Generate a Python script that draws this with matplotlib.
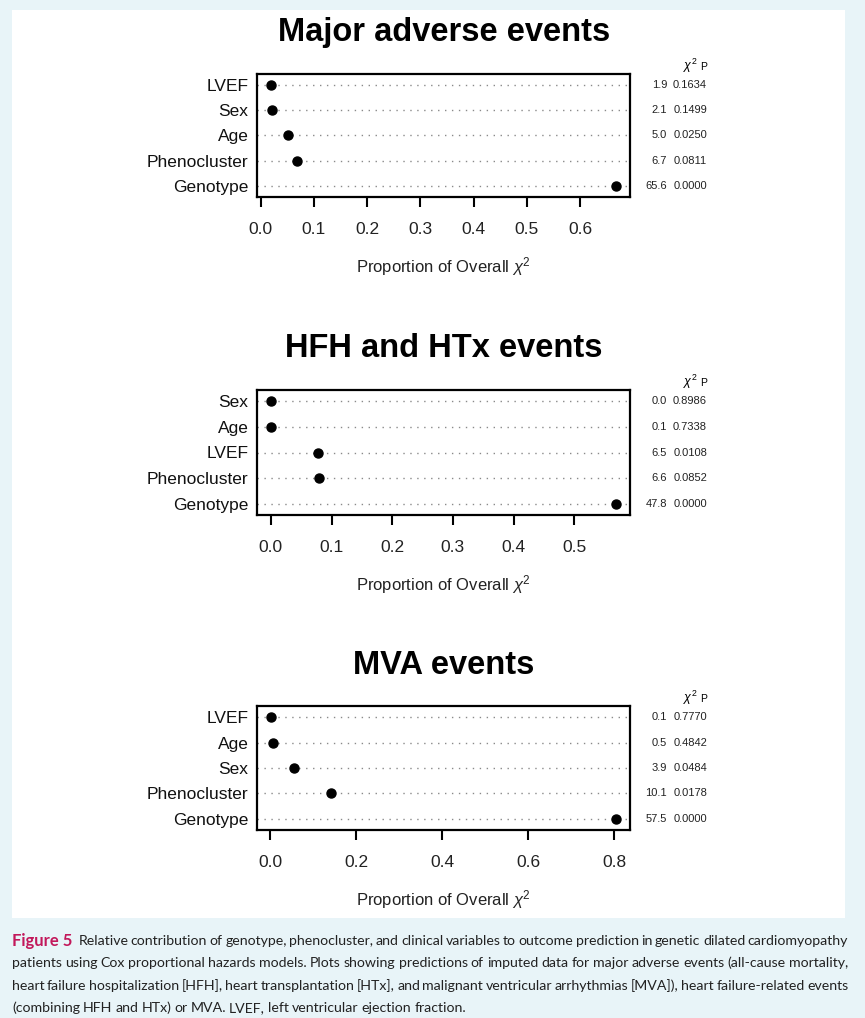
import matplotlib
matplotlib.use('Agg')
import matplotlib.pyplot as plt
from matplotlib.patches import Rectangle

plt.rcParams['font.family'] = ['Liberation Sans', 'DejaVu Sans']
plt.rcParams['mathtext.fontset'] = 'custom'
plt.rcParams['mathtext.it'] = 'Liberation Sans:italic'
plt.rcParams['mathtext.rm'] = 'Liberation Sans'

# data
titles = ['Major adverse events', 'HFH and HTx events', 'MVA events']

labels1 = ['LVEF', 'Sex', 'Age', 'Phenocluster', 'Genotype']
prop1 = [0.019, 0.021, 0.051, 0.068, 0.668]
chi1 = ['1.9', '2.1', '5.0', '6.7', '65.6']
p1 = ['0.1634', '0.1499', '0.0250', '0.0811', '0.0000']
ticks1 = [0.0, 0.1, 0.2, 0.3, 0.4, 0.5, 0.6]

labels2 = ['Sex', 'Age', 'LVEF', 'Phenocluster', 'Genotype']
prop2 = [0.000, 0.001, 0.077, 0.079, 0.569]
chi2 = ['0.0', '0.1', '6.5', '6.6', '47.8']
p2 = ['0.8986', '0.7338', '0.0108', '0.0852', '0.0000']
ticks2 = [0.0, 0.1, 0.2, 0.3, 0.4, 0.5]

labels3 = ['LVEF', 'Age', 'Sex', 'Phenocluster', 'Genotype']
prop3 = [0.0014, 0.007, 0.055, 0.142, 0.804]
chi3 = ['0.1', '0.5', '3.9', '10.1', '57.5']
p3 = ['0.7770', '0.4842', '0.0484', '0.0178', '0.0000']
ticks3 = [0.0, 0.2, 0.4, 0.6, 0.8]

caption = [
    'Relative contribution of genotype, phenocluster, and clinical variables to outcome prediction in genetic dilated cardiomyopathy',
    'patients using Cox proportional hazards models. Plots showing predictions of imputed data for major adverse events (all-cause mortality,',
    'heart failure hospitalization [HFH], heart transplantation [HTx], and malignant ventricular arrhythmias [MVA]), heart failure-related events',
    '(combining HFH and HTx) or MVA. LVEF, left ventricular ejection fraction.',
]

W, H = 865, 1018
fig = plt.figure(figsize=(W / 100, H / 100), dpi=100, facecolor='#e8f4f8')
fig.patches.append(Rectangle((12 / W, 1 - 918 / H), 833 / W, 908 / H,
                             transform=fig.transFigure, facecolor='white',
                             edgecolor='none', zorder=-10))

panels = [
    (labels1, prop1, chi1, p1, ticks1, 74, 197),
    (labels2, prop2, chi2, p2, ticks2, 390, 515),
    (labels3, prop3, chi3, p3, ticks3, 706, 830),
]

for title, (labs, vals, chis, ps, ticks, top, bot) in zip(titles, panels):
    ax = fig.add_axes([257 / W, 1 - bot / H, (630 - 257) / W, (bot - top) / H])
    n = len(labs)
    ypos = list(range(1, n + 1))
    for y in ypos:
        ax.axhline(y, color='#8a8a8a', lw=1.0, ls=(0, (1, 4)), zorder=1)
    ax.plot(vals, ypos, 'o', color='black', ms=6.5, zorder=3)
    r = max(vals) - min(vals)
    ax.set_xlim(min(vals) - 0.04 * r, max(vals) + 0.04 * r)
    ax.set_ylim(n + 0.45, 0.55)
    ax.set_yticks(ypos)
    ax.set_yticklabels(labs, fontsize=12.5, color='#111111')
    ax.tick_params(axis='y', length=0, pad=6)
    ax.set_xticks(ticks)
    ax.set_xticklabels(['%.1f' % t for t in ticks], fontsize=12.5, color='#222222')
    ax.tick_params(axis='x', length=7, width=1.5, pad=11)
    for s in ax.spines.values():
        s.set_linewidth(1.6)
    ax.set_xlabel(r'Proportion of Overall $\chi^2$', fontsize=12, labelpad=13,
                  color='#222222')

    fig.text(444 / W, 1 - (top - 41) / H, title, ha='center', va='center',
             fontsize=23.5, fontweight='bold')

    # chi-square / P columns on the right
    fig.text(690 / W, 1 - (top - 8) / H, r'$\chi^2$', ha='center', va='center',
             fontsize=9)
    fig.text(707 / W, 1 - (top - 7) / H, 'P', ha='right', va='center', fontsize=7.5)
    for y, c, p in zip(ypos, chis, ps):
        yy = ax.transData.transform((0, y))[1] / H
        fig.text(667 / W, yy, c, ha='right', va='center', fontsize=8,
                 color='#222222')
        fig.text(707 / W, yy, p, ha='right', va='center', fontsize=8,
                 color='#222222')

# caption, justified word by word between x=12 and x=848
cap_font = ['Lato', 'DejaVu Sans']
cap_size = 10.2
line_y = [941, 963, 986, 1008]
x0, x1 = 12, 848
renderer = fig.canvas.get_renderer()


def width_px(t):
    bb = t.get_window_extent(renderer=renderer)
    return bb.width


head = fig.text(x0 / W, 1 - line_y[0] / H, 'Figure 5', ha='left', va='center',
                fontsize=12, fontweight='bold', color='#c2185b', family=cap_font)
start0 = x0 + width_px(head) + 6

for i, (line, y) in enumerate(zip(caption, line_y)):
    start = start0 if i == 0 else x0
    words = line.split(' ')
    texts = [fig.text(0, 1 - y / H, w, ha='left', va='center', fontsize=cap_size,
                      color='#222222', family=cap_font) for w in words]
    widths = [width_px(t) for t in texts]
    if i < len(caption) - 1:
        gap = (x1 - start - sum(widths)) / (len(words) - 1)
    else:
        gap = cap_size * 0.3
    x = start
    for t, w in zip(texts, widths):
        t.set_x(x / W)
        x += w + gap

fig.savefig('out.png', dpi=100, facecolor=fig.get_facecolor())
